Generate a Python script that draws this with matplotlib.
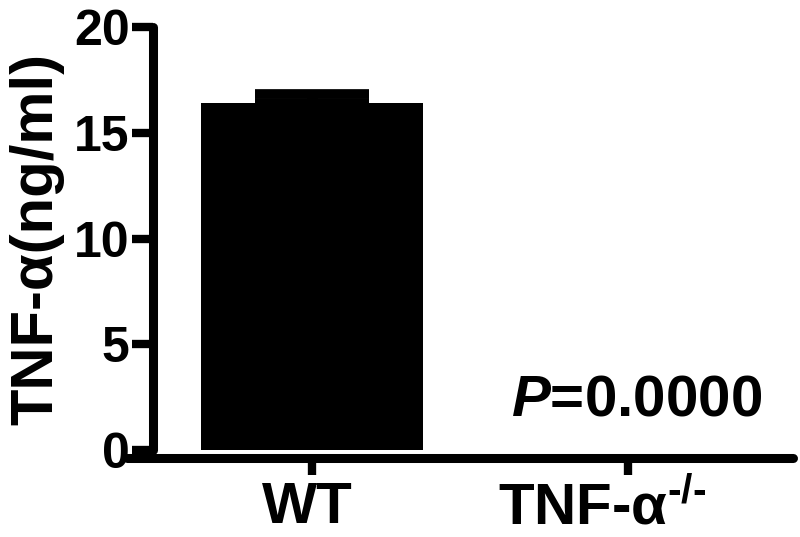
import matplotlib
matplotlib.use('Agg')
import matplotlib.pyplot as plt
from matplotlib.transforms import ScaledTranslation

categories = ['WT', 'TNF-α$^{\\text{-/-}}$']
means = [16.4, 0.0]
err_upper = [0.45, 0.0]
yticks = [0, 5, 10, 15, 20]
ylabel = 'TNF-α(ng/ml)'
p_text = '$P$=0.0000'

plt.rcParams['font.family'] = ['Liberation Sans', 'DejaVu Sans']
plt.rcParams['font.weight'] = 'bold'
plt.rcParams['mathtext.fontset'] = 'custom'
plt.rcParams['mathtext.rm'] = 'Liberation Sans:bold'
plt.rcParams['mathtext.it'] = 'Liberation Sans:bold:italic'
plt.rcParams['mathtext.bf'] = 'Liberation Sans:bold'

fig = plt.figure(figsize=(8, 5.37), dpi=100)
ax = fig.add_axes([0.159, 0.162, 0.8325, 0.7877])
x = list(range(len(categories)))
ax.bar(x, means, width=0.70, color='black', linewidth=0, zorder=2)
ex = [xi for xi, e in zip(x, err_upper) if e > 0]
ey = [m for m, e in zip(means, err_upper) if e > 0]
ee = [e for e in err_upper if e > 0]
ax.errorbar(ex, ey, yerr=[[0] * len(ee), ee], fmt='none', ecolor='black',
            elinewidth=8, capsize=41, capthick=7, zorder=3)

ax.set_xlim(-0.585, 1.522)
ax.set_ylim(0, 20)
ax.set_yticks(yticks)
ax.set_xticks(x)
ax.set_xticklabels(categories)

for s in ['top', 'right']:
    ax.spines[s].set_visible(False)
ax.spines['left'].set_position(('data', -0.503))
ax.spines['left'].set_bounds(0, 20)
ax.spines['bottom'].set_position(('outward', 6))
for s in ['left', 'bottom']:
    ax.spines[s].set_linewidth(6.5)
    ax.spines[s].set_capstyle('round')

ax.tick_params(axis='both', width=6, direction='out')
ax.tick_params(axis='y', labelsize=36, pad=2, length=15)
ax.tick_params(axis='x', labelsize=42, pad=4, length=12)

ax.set_ylabel(ylabel, fontsize=43, fontweight='bold')
ax.yaxis.set_label_coords(-0.095, 0.5)

ax.text(1.028, 1.65, p_text, ha='center', va='baseline', fontsize=42,
        fontweight='bold')

# shift x tick labels slightly left as in the reference
shifts = [-5, -26]
for lab, dx in zip(ax.get_xticklabels(), shifts):
    lab.set_transform(lab.get_transform() + ScaledTranslation(dx / 100, 0, fig.dpi_scale_trans))

fig.savefig('out.png', dpi=100)
